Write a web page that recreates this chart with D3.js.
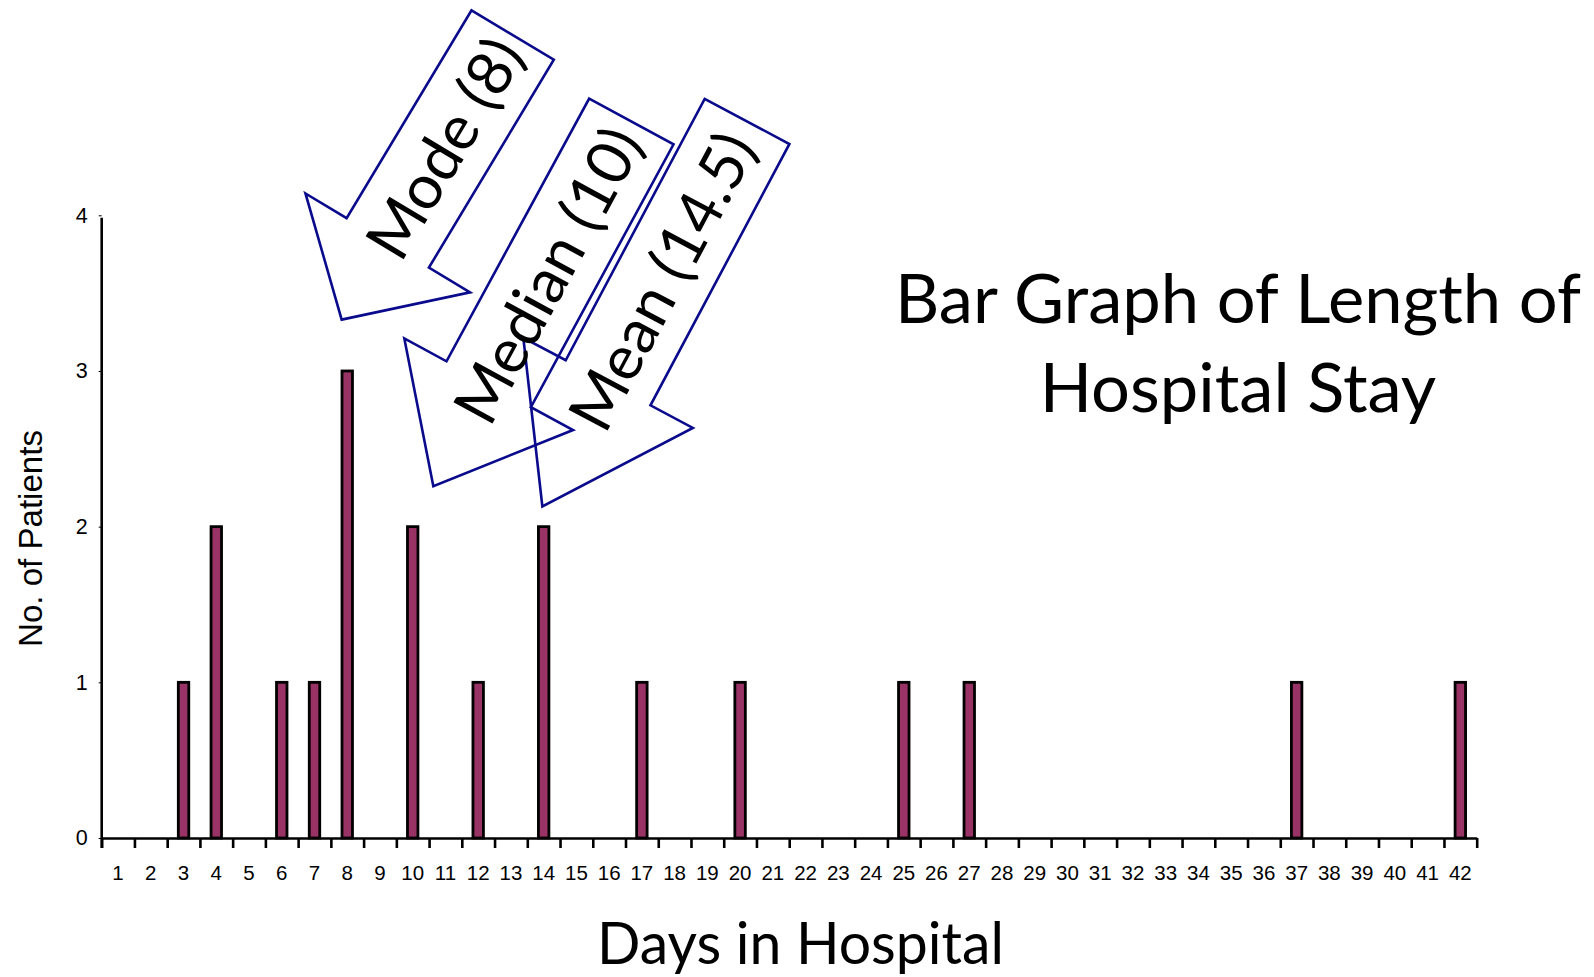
<!DOCTYPE html>
<html>
<head>
<meta charset="utf-8">
<script src="https://cdn.jsdelivr.net/npm/d3@7"></script>
<style>
  html, body { margin: 0; padding: 0; background: #ffffff; }
  svg { display: block; }
</style>
</head>
<body>
<script>
// ---------------- data ----------------
const days = [1,2,3,4,5,6,7,8,9,10,11,12,13,14,15,16,17,18,19,20,21,
              22,23,24,25,26,27,28,29,30,31,32,33,34,35,36,37,38,39,40,41,42];
const patients = [0,0,1,2,0,1,1,3,0,2, 0,1,0,2,0,0,1,0,0,1, 0,0,0,0,1,0,1,
                  0,0,0,0,0,0,0,0,0, 1, 0,0,0,0, 1];
const yTicks = [0,1,2,3,4];
const titleLines = ["Bar Graph of Length of", "Hospital Stay"];
const xTitle = "Days in Hospital";
const yTitle = "No. of Patients";

// annotation callouts (label, where the arrow tip points in data units)
const annLabels = ["Mode (8)", "Median (10)", "Mean (14.5)"];
const annTipDay = [7.83, 10.63, 13.96];
const annTipCount = [3.33, 2.26, 2.13];

// ---------------- layout ----------------
const W = 1594, H = 977;
const plot = { left: 101.7, right: 1476.7, top: 215.3, bottom: 838 };
const annGeom = [
  { angle: 31.0, len: 332, head: 89.5, textMid: 200 },
  { angle: 28.5, len: 415, head: 116,  textMid: 240 },
  { angle: 28.0, len: 436, head: 140,  textMid: 255 }
];
const boxHalf = 48, headHalf = 96;
const arrowColor = "#0a0a8c";
const barColor = "#993366";
const sans = "'Liberation Sans', Arial, sans-serif";
const calibriLike = "Lato, 'Open Sans', sans-serif";

const svg = d3.select("body").append("svg")
  .attr("width", W).attr("height", H);

function fitSize(text, family, target) {
  const t = svg.append("text").attr("font-family", family)
    .attr("font-size", 100).text(text);
  const w = t.node().getComputedTextLength();
  t.remove();
  return 100 * target / w;
}

// scales
const x = d3.scaleBand().domain(days).range([plot.left, plot.right]).padding(0);
const xc = d3.scaleLinear().domain([0.5, 42.5]).range([plot.left, plot.right]);
const y = d3.scaleLinear().domain([0, 4]).range([plot.bottom, plot.top]);

const barW = x.bandwidth() * 0.32;

// bars
svg.append("g").selectAll("rect")
  .data(days.map((d, i) => ({ day: d, n: patients[i] })).filter(d => d.n > 0))
  .join("rect")
  .attr("x", d => x(d.day) + (x.bandwidth() - barW) / 2)
  .attr("y", d => y(d.n))
  .attr("width", barW)
  .attr("height", d => y(0) - y(d.n))
  .attr("fill", barColor)
  .attr("stroke", "#000")
  .attr("stroke-width", 2.8);

// x axis: tick marks at band boundaries
const xBoundary = d3.scaleLinear().domain([0, days.length]).range([plot.left, plot.right]);
const xAxisG = svg.append("g").attr("transform", `translate(0,${plot.bottom})`)
  .call(d3.axisBottom(xBoundary).tickValues(d3.range(0, days.length + 1))
    .tickSize(10).tickSizeOuter(0).tickFormat(""));
xAxisG.select(".domain").attr("stroke", "#000").attr("stroke-width", 2.6);
xAxisG.selectAll(".tick line").attr("stroke", "#000").attr("stroke-width", 2.6);

// x labels centred in bands
const xLabG = svg.append("g").attr("transform", `translate(0,${plot.bottom})`)
  .call(d3.axisBottom(x).tickSize(0).tickPadding(27));
xLabG.select(".domain").remove();
xLabG.selectAll("text").attr("font-family", sans).attr("font-size", 20.5)
  .attr("fill", "#000");

// y axis
const yAxisG = svg.append("g").attr("transform", `translate(${plot.left},0)`)
  .call(d3.axisLeft(y).tickValues(yTicks).tickFormat(d3.format("d"))
    .tickSize(3).tickPadding(11));
yAxisG.select(".domain").remove();
yAxisG.selectAll(".tick line").attr("stroke", "#000").attr("stroke-width", 1);
yAxisG.selectAll("text").attr("font-family", sans).attr("font-size", 21.5)
  .attr("fill", "#000");
svg.append("line")
  .attr("x1", plot.left).attr("x2", plot.left)
  .attr("y1", y(4) + 2.5).attr("y2", plot.bottom + 10)
  .attr("stroke", "#000").attr("stroke-width", 2.6);

// y title
svg.append("text")
  .attr("transform", `translate(42,538.5) rotate(-90)`)
  .attr("text-anchor", "middle")
  .attr("font-family", sans)
  .attr("font-size", fitSize(yTitle, sans, 217))
  .attr("fill", "#000")
  .text(yTitle);

// x title
svg.append("text")
  .attr("x", 800.5).attr("y", 964)
  .attr("text-anchor", "middle")
  .attr("font-family", calibriLike)
  .attr("font-size", fitSize(xTitle, calibriLike, 407))
  .attr("fill", "#000")
  .text(xTitle);

// chart title
const tSize = fitSize(titleLines[0], calibriLike, 686);
svg.append("g").selectAll("text").data(titleLines).join("text")
  .attr("x", 1238)
  .attr("y", (d, i) => 323 + i * 89)
  .attr("text-anchor", "middle")
  .attr("font-family", calibriLike)
  .attr("font-size", tSize)
  .attr("fill", "#000")
  .text(d => d);

// annotation arrows
const annSize = fitSize(annLabels[1], calibriLike, 325);
const annG = svg.append("g");
annLabels.forEach((label, i) => {
  const g = annGeom[i];
  const tx = xc(annTipDay[i]), ty = y(annTipCount[i]);
  const grp = annG.append("g")
    .attr("transform", `translate(${tx},${ty}) rotate(${g.angle})`);
  const pts = [[-boxHalf, -g.len], [boxHalf, -g.len], [boxHalf, -g.head],
               [headHalf, -g.head], [0, 0], [-headHalf, -g.head], [-boxHalf, -g.head]];
  grp.append("polygon")
    .attr("points", pts.map(p => p.join(",")).join(" "))
    .attr("fill", "none")
    .attr("stroke", arrowColor)
    .attr("stroke-width", 2.6)
    .attr("stroke-linejoin", "miter");
});
annLabels.forEach((label, i) => {
  const g = annGeom[i];
  const tx = xc(annTipDay[i]), ty = y(annTipCount[i]);
  annG.append("text")
    .attr("transform", `translate(${tx},${ty}) rotate(${g.angle}) translate(22,${-g.textMid}) rotate(-90)`)
    .attr("text-anchor", "middle")
    .attr("font-family", calibriLike)
    .attr("font-size", annSize)
    .attr("fill", "#000")
    .text(label);
});
</script>
</body>
</html>
